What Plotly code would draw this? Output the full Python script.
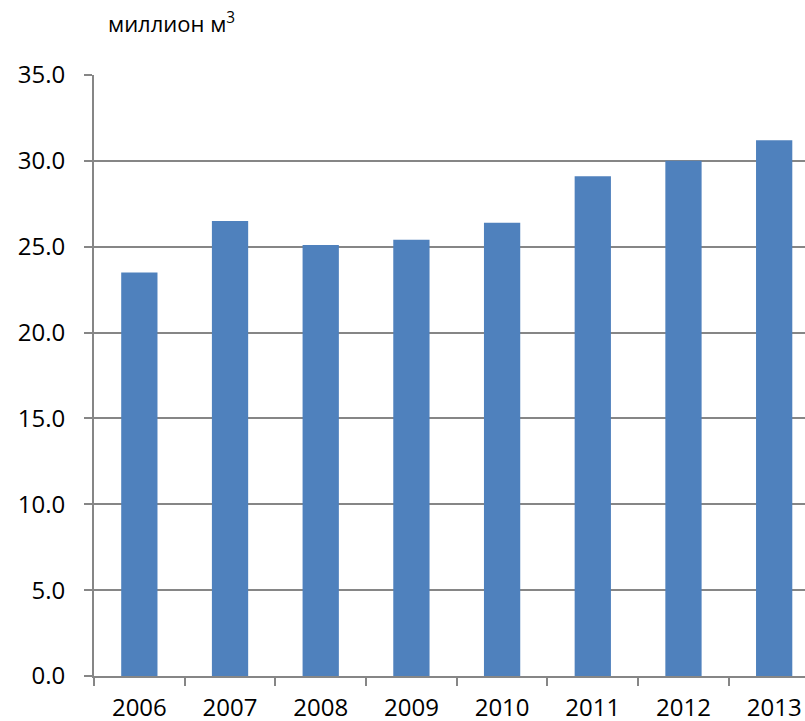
import plotly.graph_objects as go

years = ["2006", "2007", "2008", "2009", "2010", "2011", "2012", "2013"]
volume = [23.5, 26.5, 25.1, 25.4, 26.4, 29.1, 30.0, 31.2]
y_ticks = [0, 5, 10, 15, 20, 25, 30, 35]
y_labels = ["0.0", "5.0", "10.0", "15.0", "20.0", "25.0", "30.0", "35.0"]

title_text = "Усны нийт хэрэглээ"
unit_text = "миллион м<sup>3</sup>"

font_family = "Open Sans, DejaVu Sans, sans-serif"
axis_gray = "#868686"

# plot area in pixels
left, right, top, bottom = 94, 805, 75, 676
W, H = 805, 721
ph = bottom - top
pw = right - left

fig = go.Figure(go.Bar(x=years, y=volume, marker=dict(color="#4F81BD", line=dict(width=0))))

# title sits almost entirely above the top edge in the reference,
# annotations get pulled back inside, so draw it as an unclipped text trace
title_y = 35 * (bottom + 8) / ph
fig.add_trace(go.Scatter(
    x=[3.9], y=[title_y], mode="text", text=["<b>" + title_text + "</b>"],
    textposition="middle center", textfont=dict(size=38, color="black"),
    cliponaxis=False, hoverinfo="skip",
))

fig.update_layout(
    width=W,
    height=H,
    margin=dict(l=left, r=W - right, t=top, b=H - bottom, pad=0, autoexpand=False),
    plot_bgcolor="white",
    paper_bgcolor="white",
    bargap=0.6,
    showlegend=False,
    font=dict(family=font_family, size=24, color="black"),
)

fig.update_xaxes(
    range=[-0.5, 7.34],
    automargin=False,
    showgrid=False,
    showline=True,
    linecolor=axis_gray,
    linewidth=2,
    ticks="outside",
    tickson="boundaries",
    ticklen=8,
    tickcolor=axis_gray,
    tickwidth=2,
    ticklabelstandoff=9,
    tickfont=dict(size=24),
)

fig.update_yaxes(
    range=[0, 35],
    automargin=False,
    tickvals=y_ticks,
    ticktext=y_labels,
    showgrid=True,
    gridcolor=axis_gray,
    gridwidth=2,
    showline=True,
    linecolor=axis_gray,
    linewidth=2,
    ticks="outside",
    ticklen=8,
    tickcolor=axis_gray,
    tickwidth=2,
    ticklabelstandoff=14,
    tickfont=dict(size=24),
    zeroline=False,
)

fig.add_annotation(
    text=unit_text, xref="paper", yref="paper", x=(106 - left) / pw, y=(bottom - 22) / ph,
    xanchor="left", yanchor="middle", showarrow=False, font=dict(size=22),
)

fig.write_html(
    "out.html",
    config={"displayModeBar": False},
    post_script="document.body.style.margin='0';",
)
